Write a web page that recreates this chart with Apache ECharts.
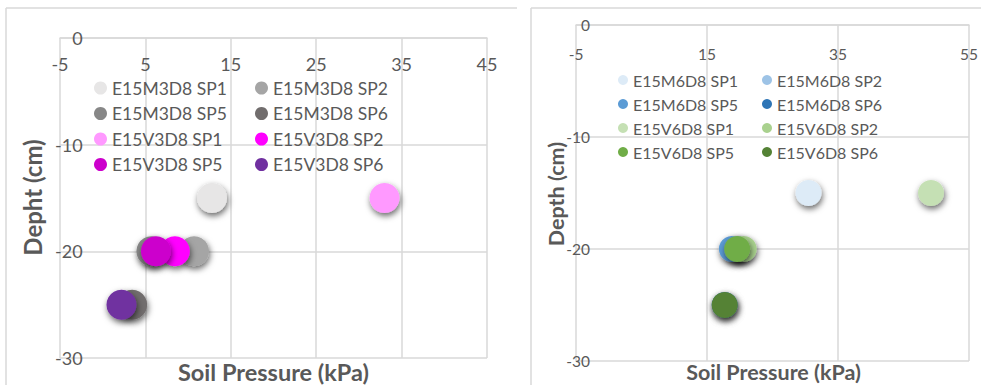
<!DOCTYPE html>
<html>
<head>
<meta charset="utf-8">
<script src="https://cdn.jsdelivr.net/npm/echarts@6/dist/echarts.min.js"></script>
<style>html,body{margin:0;padding:0;background:#fff}#c{width:981px;height:385px}</style>
</head>
<body>
<div id="c"></div>
<script>
// ---- Left chart (M3 / V3) ----
const leftNames = ['E15M3D8 SP1','E15M3D8 SP2','E15M3D8 SP5','E15M3D8 SP6','E15V3D8 SP1','E15V3D8 SP2','E15V3D8 SP5','E15V3D8 SP6'];
const leftPressure = [12.8, 10.7, 5.7, 3.45, 33.0, 8.45, 6.23, 2.2];
const leftDepth = [-15, -20, -20, -25, -15, -20, -20, -25];
const leftColors = ['#E7E6E6','#A5A5A5','#878787','#716D6D','#FF99FF','#FF00FF','#CC00CC','#7030A0'];
const leftXTicks = [-5, 45, 10];
// ---- Right chart (M6 / V6) ----
const rightNames = ['E15M6D8 SP1','E15M6D8 SP2','E15M6D8 SP5','E15M6D8 SP6','E15V6D8 SP1','E15V6D8 SP2','E15V6D8 SP5','E15V6D8 SP6'];
const rightPressure = [30.5, 19.8, 18.8, 17.7, 49.2, 20.6, 19.6, 17.7];
const rightDepth = [-15, -20, -20, -25, -15, -20, -20, -25];
const rightColors = ['#DDEBF7','#9DC3E6','#5B9BD5','#2E75B6','#C5E0B4','#A9D18E','#70AD47','#548235'];
const rightXTicks = [-5, 55, 20];
const depthTicks = [-30, 0, 10];

const txt = '#595959', grid = '#D9D9D9', FF = 'Lato';
const L = { left: 60, width: 427, top: 38, height: 320 };
const R = { left: 576, width: 395, top: 25, height: 336 };

function xAxis(idx, t, fs, margin) {
  return {
    type: 'value', gridIndex: idx, min: t[0], max: t[1], interval: t[2], position: 'top',
    axisLine: { show: true, onZero: false, lineStyle: { color: grid, width: 1.5 } },
    axisTick: { show: false },
    axisLabel: { inside: true, color: txt, fontSize: fs, fontFamily: FF, margin: margin, showMinLabel: true, showMaxLabel: true },
    splitLine: { show: true, lineStyle: { color: grid, width: 1.5 } }
  };
}
// y axis crosses the x axis at pressure 0
function yAxis(idx, t, box, fs, margin) {
  const zeroOffset = -(0 - t[0]) / (t[1] - t[0]) * box.width;
  return {
    type: 'value', gridIndex: idx, min: depthTicks[0], max: depthTicks[1], interval: depthTicks[2], position: 'left',
    offset: zeroOffset,
    axisLine: { show: false, onZero: false },
    axisTick: { show: false },
    axisLabel: { color: txt, fontSize: fs, fontFamily: FF, margin: margin, showMinLabel: true, showMaxLabel: true },
    splitLine: { show: true, lineStyle: { color: grid, width: 1.5 } }
  };
}
function mkSeries(names, xs, ys, colors, gi, size) {
  return names.map((n, i) => ({
    name: n, type: 'scatter', xAxisIndex: gi, yAxisIndex: gi, symbolSize: size,
    data: [[xs[i], ys[i]]],
    itemStyle: { color: colors[i], opacity: 1, shadowBlur: 6, shadowOffsetX: 1, shadowOffsetY: 3, shadowColor: 'rgba(0,0,0,0.6)' },
    emphasis: { disabled: true }
  }));
}
function mkLegend(data, left, top, size, fs, gap) {
  return {
    data: data, orient: 'vertical', left: left, top: top, icon: 'circle',
    itemWidth: size, itemHeight: size, itemGap: gap, padding: 0,
    itemStyle: { shadowBlur: 0, shadowOffsetX: 0, shadowOffsetY: 0, shadowColor: 'rgba(0,0,0,0)' },
    textStyle: { color: txt, fontSize: fs, fontFamily: FF, lineHeight: fs },
    selectedMode: false
  };
}
const lineStyle = { stroke: grid, lineWidth: 1.5 };
const option = {
  animation: false,
  grid: [
    { left: L.left, width: L.width, top: L.top, height: L.height },
    { left: R.left, width: R.width, top: R.top, height: R.height }
  ],
  xAxis: [xAxis(0, leftXTicks, 18, 17), xAxis(1, rightXTicks, 15.5, 21)],
  yAxis: [yAxis(0, leftXTicks, L, 18, 20), yAxis(1, rightXTicks, R, 15.5, 19)],
  legend: [
    mkLegend([leftNames[0], leftNames[2], leftNames[4], leftNames[6]], 94, 79, 13, 17.5, 7.5),
    mkLegend([leftNames[1], leftNames[3], leftNames[5], leftNames[7]], 255, 79, 13, 17.5, 7.5),
    mkLegend([rightNames[0], rightNames[2], rightNames[4], rightNames[6]], 618, 72, 10, 16, 8),
    mkLegend([rightNames[1], rightNames[3], rightNames[5], rightNames[7]], 762, 72, 10, 16, 8)
  ],
  series: mkSeries(leftNames, leftPressure, leftDepth, leftColors, 0, 30)
    .concat(mkSeries(rightNames, rightPressure, rightDepth, rightColors, 1, 26)),
  graphic: [
    { type: 'line', shape: { x1: 6, y1: 8, x2: 517, y2: 8 }, style: lineStyle, silent: true },
    { type: 'line', shape: { x1: 6, y1: 8, x2: 6, y2: 385 }, style: lineStyle, silent: true },
    { type: 'line', shape: { x1: 531, y1: 8, x2: 981, y2: 8 }, style: lineStyle, silent: true },
    { type: 'line', shape: { x1: 531, y1: 8, x2: 531, y2: 385 }, style: lineStyle, silent: true },
    { type: 'text', x: 32, y: 197.5, rotation: Math.PI / 2, silent: true,
      style: { text: 'Depht (cm)', align: 'center', verticalAlign: 'middle', font: 'bold 24px Lato', fill: txt } },
    { type: 'text', x: 273.5, y: 371.5, silent: true,
      style: { text: 'Soil Pressure (kPa)', align: 'center', verticalAlign: 'middle', font: 'bold 23.5px Lato', fill: txt } },
    { type: 'text', x: 556, y: 194, rotation: Math.PI / 2, silent: true,
      style: { text: 'Depth (cm)', align: 'center', verticalAlign: 'middle', font: 'bold 21.5px Lato', fill: txt } },
    { type: 'text', x: 773.5, y: 372, silent: true,
      style: { text: 'Soil Pressure (kPa)', align: 'center', verticalAlign: 'middle', font: 'bold 21.5px Lato', fill: txt } }
  ]
};
const chart = echarts.init(document.getElementById('c'), null, { renderer: 'svg' });
chart.setOption(option);
</script>
</body>
</html>
